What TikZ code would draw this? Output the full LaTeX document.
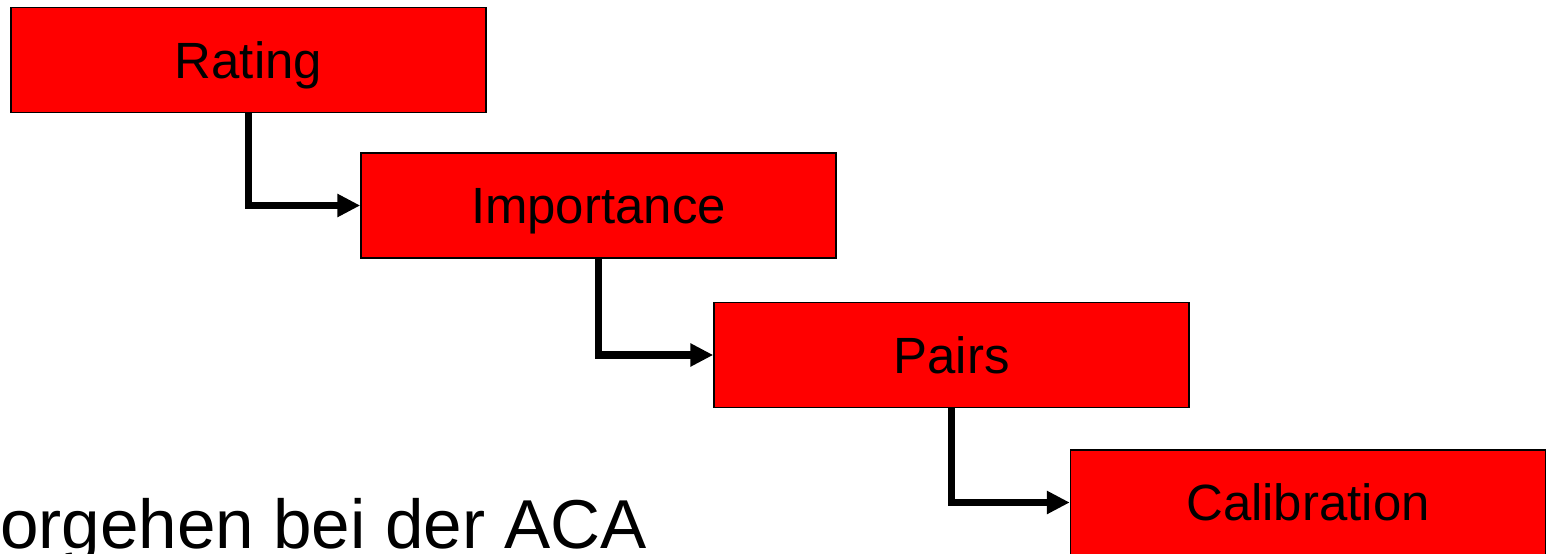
\documentclass[tikz,border=0pt]{standalone}
\usepackage{fontspec}
\setmainfont{Liberation Sans}
\usetikzlibrary{arrows.meta}
\definecolor{boxred}{RGB}{255,0,0}
\tikzset{
    stepbox/.style={draw=black,line width=0.9pt,fill=boxred,minimum width=9.5cm,minimum height=2.1cm,inner sep=0pt,text height=20.8pt,text depth=0pt,font=\fontsize{29}{33}\selectfont},
    link/.style={line width=4pt,-{Triangle[length=0.46cm,width=0.44cm]}}
}
\begin{document}
\begin{tikzpicture}[x=0.02cm,y=-0.02cm]
    \useasboundingbox (0,0) rectangle (1546,554);
    \node[stepbox] (rating) at (248.5,60) {Rating};
    \node[stepbox] (importance) at (598.5,205.5) {Importance};
    \node[stepbox] (pairs) at (951.5,355) {Pairs};
    \node[stepbox] (calibration) at (1308,502.5) {Calibration};
    \foreach \a/\b in {rating/importance,importance/pairs,pairs/calibration}
        {
            \draw[link] (\a.south) |- (\b.west);
        }
    \node[anchor=base west,inner sep=0pt,font=\fontsize{39.4}{45}\selectfont] (title) at (0,548) {orgehen bei der ACA};
\end{tikzpicture}
\end{document}
